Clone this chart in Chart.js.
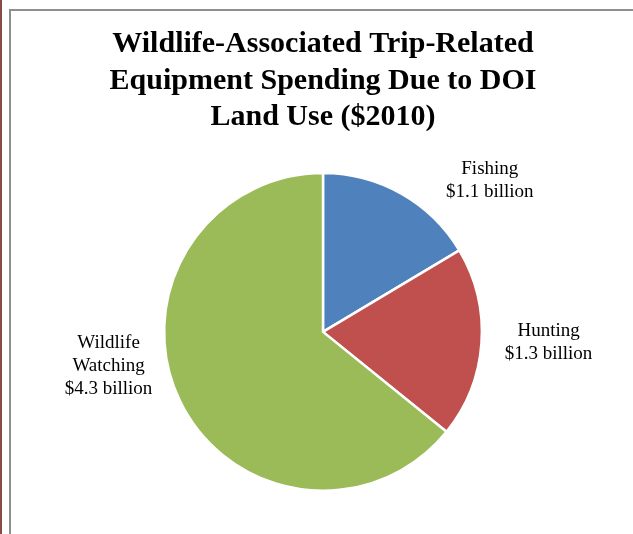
<!DOCTYPE html>
<html>
<head>
<meta charset="utf-8">
<script src="https://cdn.jsdelivr.net/npm/chart.js@4"></script>
<style>
  html, body { margin: 0; padding: 0; background: #ffffff; }
  body { width: 633px; height: 534px; position: relative; overflow: hidden; }
  #redline { position: absolute; left: 0; top: 0; width: 2px; height: 534px; background: #8b4a4a; }
  #frame { position: absolute; left: 9px; top: 9px; width: 640px; height: 540px;
           border-left: 2px solid #8e8e8e; border-top: 2px solid #8e8e8e; box-sizing: border-box; }
  #wrap { position: absolute; left: 0; top: 0; width: 633px; height: 534px; }
</style>
</head>
<body>
<div id="redline"></div>
<div id="frame"></div>
<div id="wrap"><canvas id="c" width="633" height="534"></canvas></div>
<script>
// ---- data ----
const categories = ["Fishing", "Hunting", "Wildlife Watching"];
const spendingBillions = [1.1, 1.3, 4.3];
const labelLines = [
  ["Fishing", "$1.1 billion"],
  ["Hunting", "$1.3 billion"],
  ["Wildlife", "Watching", "$4.3 billion"]
];
const titleLines = [
  "Wildlife-Associated Trip-Related",
  "Equipment Spending Due to DOI",
  "Land Use ($2010)"
];
const sliceColors = ["#4F81BD", "#C0504D", "#9BBB59"];

// label anchor offsets relative to pie center, in units of the pie radius (style)
const labelOffsets = [[1.05, -0.95], [1.42, 0.068], [-1.35, 0.213]];

const labelPlugin = {
  id: 'sliceLabels',
  afterDatasetsDraw(chart) {
    const ctx = chart.ctx;
    const meta = chart.getDatasetMeta(0);
    ctx.save();
    ctx.font = '19px "Liberation Serif", "DejaVu Serif", serif';
    ctx.fillStyle = '#000000';
    ctx.textAlign = 'center';
    ctx.textBaseline = 'middle';
    const lh = 23;
    meta.data.forEach((arc, i) => {
      const r = arc.outerRadius;
      const cx = arc.x + labelOffsets[i][0] * r;
      const cy = arc.y + labelOffsets[i][1] * r;
      const lines = labelLines[i];
      const y0 = cy - (lines.length - 1) * lh / 2;
      lines.forEach((t, k) => ctx.fillText(t, cx, y0 + k * lh));
    });
    ctx.restore();
  }
};

new Chart(document.getElementById('c'), {
  type: 'pie',
  data: {
    labels: categories,
    datasets: [{
      data: spendingBillions,
      backgroundColor: sliceColors,
      borderColor: '#ffffff',
      borderWidth: 2.5,
      hoverOffset: 0
    }]
  },
  options: {
    responsive: false,
    animation: false,
    events: [],
    layout: { padding: { left: 13, right: 0, top: 0, bottom: 42 } },
    plugins: {
      legend: { display: false },
      tooltip: { enabled: false },
      title: {
        display: true,
        text: titleLines,
        color: '#000000',
        font: { family: '"Liberation Serif", "DejaVu Serif", serif', size: 30, weight: 'bold', lineHeight: 1.22 },
        padding: { top: 26, bottom: 36 }
      }
    }
  },
  plugins: [labelPlugin]
});
</script>
</body>
</html>
